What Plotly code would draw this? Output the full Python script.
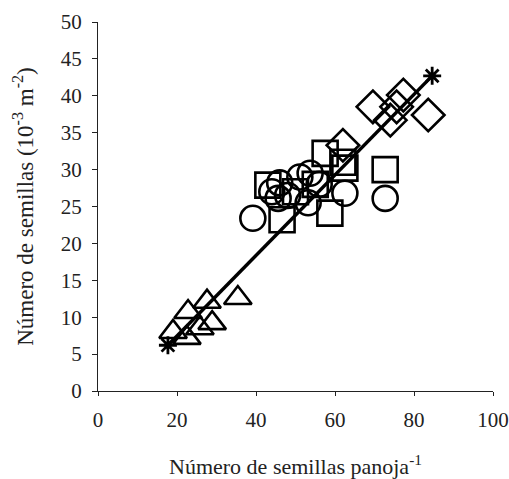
import plotly.graph_objects as go

# Triangles
tri_x = [19.0, 22.5, 22.8, 25.8, 27.6, 28.9, 35.4]
tri_y = [8.0, 7.2, 10.7, 8.5, 12.1, 9.2, 12.6]
# Squares
sq_x = [43.0, 46.6, 50.0, 55.0, 57.5, 58.7, 62.0, 62.5, 72.7]
sq_y = [27.9, 23.2, 27.0, 28.0, 32.2, 24.1, 31.0, 30.2, 30.0]
# Circles
ci_x = [39.2, 44.0, 45.6, 46.0, 48.0, 51.1, 53.2, 53.7, 56.0, 62.5, 72.7]
ci_y = [23.4, 27.0, 26.1, 28.2, 26.5, 29.0, 25.5, 29.5, 28.0, 26.8, 26.1]
# Diamonds
di_x = [62.0, 69.6, 74.0, 75.6, 77.3, 83.6]
di_y = [33.3, 38.5, 36.7, 38.5, 40.1, 37.4]
# Regression line end points (asterisks)
ln_x = [17.7, 84.6]
ln_y = [6.2, 42.7]

x_ticks = [0, 20, 40, 60, 80, 100]
y_ticks = [0, 5, 10, 15, 20, 25, 30, 35, 40, 45, 50]

fig = go.Figure()
for xs, ys, sym, sz in [(tri_x, tri_y, "triangle-up-open", 24), (sq_x, sq_y, "square-open", 25),
                        (ci_x, ci_y, "circle-open", 25), (di_x, di_y, "diamond-open", 25)]:
    fig.add_trace(go.Scatter(x=xs, y=ys, mode="markers",
                             marker=dict(symbol=sym, size=sz, color="black",
                                         line=dict(color="black", width=2.6)),
                             showlegend=False))

fig.add_trace(go.Scatter(x=ln_x, y=ln_y, mode="lines+markers",
                         line=dict(color="black", width=3.5),
                         marker=dict(symbol="asterisk-open", size=15, color="black",
                                     line=dict(color="black", width=2.8)),
                         showlegend=False))

font = dict(family="Liberation Serif, Times New Roman, serif", color="#222")
fig.update_layout(
    width=509, height=479,
    margin=dict(l=98, r=16, t=22, b=88),
    plot_bgcolor="white", paper_bgcolor="white",
    font=font,
    xaxis=dict(range=[0, 100], tickvals=x_ticks, showgrid=False, zeroline=False,
               automargin=False,
               showline=True, linecolor="#222", linewidth=1.2, ticks="outside",
               ticklen=4, tickcolor="#222", tickfont=dict(size=21),
               ticklabelstandoff=6,
               title=dict(text="Número de semillas panoja<sup>-1</sup>", font=dict(size=22),
                          standoff=28)),
    yaxis=dict(range=[0, 50], tickvals=y_ticks, showgrid=False, zeroline=False,
               automargin=False,
               showline=True, linecolor="#222", linewidth=1.2, ticks="outside",
               ticklen=5, tickcolor="#222", tickfont=dict(size=21),
               ticklabelstandoff=6,
               title=dict(text="Número de semillas (10<sup>-3</sup> m<sup>-2</sup>)",
                          font=dict(size=23), standoff=20)),
)
fig.write_html("out.html")
